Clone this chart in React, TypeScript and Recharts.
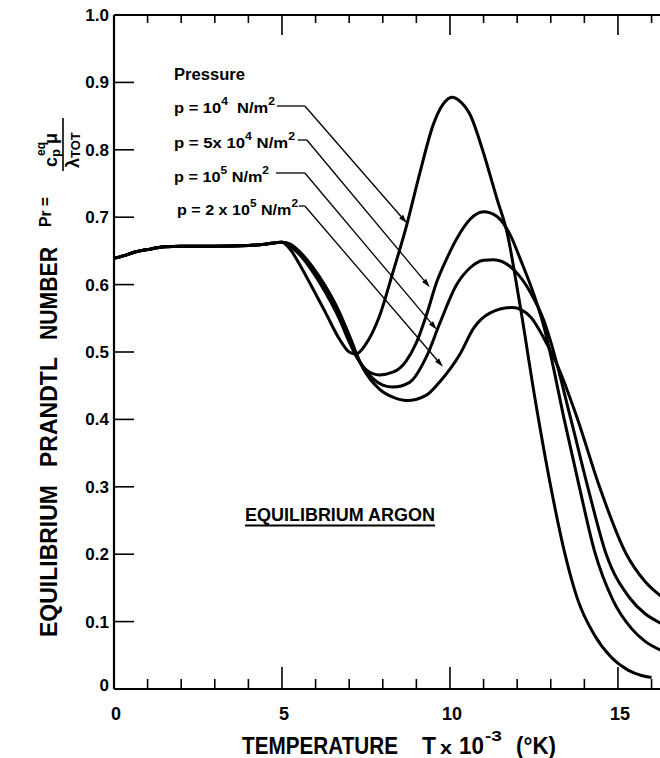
import { LineChart, Line, XAxis, YAxis, ReferenceLine } from "recharts";

// temperature in units of 1000 K, Prandtl number
const sharedT = [0, 0.3, 0.6, 1.0, 1.5, 2, 3, 4, 4.5, 5.0];
const sharedPr = [0.639, 0.643, 0.648, 0.652, 0.656, 0.657, 0.657, 0.658, 0.66, 0.663];

const branch1e4: [number, number][] = [
  [5.25, 0.652], [5.5, 0.632], [5.8, 0.605], [6.3, 0.558], [6.7, 0.52], [7.0, 0.5],
  [7.2, 0.497], [7.5, 0.512], [7.9, 0.553], [8.3, 0.618], [8.7, 0.686], [9.1, 0.765],
  [9.5, 0.837], [9.8, 0.868], [10.06, 0.878], [10.3, 0.872], [10.6, 0.852], [11.0, 0.795],
  [11.4, 0.727], [11.7, 0.677], [12.05, 0.58], [12.55, 0.425], [13.0, 0.3], [13.4, 0.205],
  [13.8, 0.133], [14.3, 0.08], [14.8, 0.047], [15.3, 0.028], [15.7, 0.02], [16.0, 0.017],
];
const branch5e4: [number, number][] = [
  [5.25, 0.657], [5.6, 0.64], [5.9, 0.62], [6.3, 0.588], [6.7, 0.55], [7.0, 0.515],
  [7.25, 0.49], [7.55, 0.472], [7.9, 0.466], [8.3, 0.47], [8.7, 0.487], [9.0, 0.514],
  [9.3, 0.555], [9.6, 0.603], [9.9, 0.638], [10.2, 0.668], [10.6, 0.697], [11.0, 0.708],
  [11.4, 0.701], [11.8, 0.673], [12.1, 0.637], [12.5, 0.585], [12.8, 0.537], [13.0, 0.495],
  [13.4, 0.4], [13.85, 0.3], [14.3, 0.205], [14.85, 0.132], [15.4, 0.09], [15.8, 0.071],
  [16.3, 0.057],
];
const branch1e5: [number, number][] = [
  [5.25, 0.659], [5.6, 0.643], [5.9, 0.624], [6.3, 0.593], [6.7, 0.555], [7.0, 0.52],
  [7.3, 0.487], [7.7, 0.461], [8.0, 0.451], [8.3, 0.448], [8.8, 0.455], [9.3, 0.493],
  [9.7, 0.543], [10.2, 0.6], [10.6, 0.625], [11.0, 0.636], [11.3, 0.637], [11.9, 0.622],
  [12.4, 0.588], [12.8, 0.546], [13.0, 0.515], [13.6, 0.4], [14.1, 0.3], [14.65, 0.2],
  [15.35, 0.135], [15.8, 0.112], [16.3, 0.097],
];
const branch2e5: [number, number][] = [
  [5.25, 0.66], [5.6, 0.645], [5.9, 0.627], [6.3, 0.597], [6.7, 0.56], [7.0, 0.525],
  [7.4, 0.477], [7.9, 0.445], [8.3, 0.433], [8.72, 0.428], [9.3, 0.436], [9.7, 0.456],
  [10.3, 0.497], [10.7, 0.535], [11.2, 0.558], [11.85, 0.566], [12.4, 0.552], [12.8, 0.52],
  [13.2, 0.48], [13.8, 0.4], [14.45, 0.3], [15.25, 0.2], [15.8, 0.16], [16.3, 0.137],
];

const xTicks = [0, 1, 2, 3, 4, 5, 6, 7, 8, 9, 10, 11, 12, 13, 14, 15, 16];
const yTicks = [0, 0.1, 0.2, 0.3, 0.4, 0.5, 0.6, 0.7, 0.8, 0.9, 1.0];
const yTickLabels = ["0", "0.1", "0.2", "0.3", "0.4", "0.5", "0.6", "0.7", "0.8", "0.9", "1.0"];

// pressure labels: text before exponent, exponent
const pressureLabels: [string, string][] = [
  ["p = 10", "4"],
  ["p = 5x 10", "4"],
  ["p = 10", "5"],
  ["p = 2 x 10", "5"],
];

// leader lines from the pressure labels: start, knee, arrow tip (data coords)
const leaders = [
  { from: [4.85, 0.865], knee: [5.68, 0.865], tip: [8.72, 0.691] },
  { from: [5.47, 0.8145], knee: [5.74, 0.8145], tip: [9.4, 0.596] },
  { from: [4.82, 0.7656], knee: [5.68, 0.7656], tip: [9.61, 0.533] },
  { from: [5.5, 0.7166], knee: [5.68, 0.7166], tip: [9.79, 0.478] },
];

const toRows = (pts: [number, number][]) => [
  ...sharedT.map((t, i) => ({ t, pr: sharedPr[i] })),
  ...pts.map(([t, pr]) => ({ t, pr })),
];

const series = [
  { key: "1e4", data: toRows(branch1e4) },
  { key: "5e4", data: toRows(branch5e4) },
  { key: "1e5", data: toRows(branch1e5) },
  { key: "2e5", data: toRows(branch2e5) },
];

const FONT = "'Liberation Sans', Arial, sans-serif";

const BottomTick = (props: any) => {
  const { x, y, payload } = props;
  const v = payload.value;
  const major = v % 5 === 0;
  return (
    <g>
      {v > 0 && <line x1={x} x2={x} y1={y} y2={y - (major ? 22 : 10)} stroke="#000" strokeWidth={1.6} />}
      {major && (
        <text x={x + 2} y={y + 31} textAnchor="middle" fontFamily={FONT} fontWeight="bold" fontSize={18} fill="#000">
          {v}
        </text>
      )}
    </g>
  );
};

const TopTick = (props: any) => {
  const { x, y, payload } = props;
  const v = payload.value;
  if (v === 0) return <g />;
  const major = v % 5 === 0;
  return <line x1={x} x2={x} y1={y} y2={y + (major ? 20 : 8)} stroke="#000" strokeWidth={1.6} />;
};

const LeftTick = (props: any) => {
  const { x, y, index } = props;
  const label = yTickLabels[index];
  const inner = index > 0 && index < yTicks.length - 1;
  return (
    <g>
      {inner && <line x1={x} x2={x + 20} y1={y} y2={y} stroke="#000" strokeWidth={1.6} />}
      <text
        x={x - 5}
        y={index === 0 ? y + 2 : y + 6}
        textAnchor="end"
        fontFamily={FONT}
        fontWeight="bold"
        fontSize={17}
        fill="#000"
      >
        {label}
      </text>
    </g>
  );
};

const RightTick = (props: any) => {
  const { x, y, payload } = props;
  const v = payload.value;
  if (v <= 0.001 || v >= 0.999) return <g />;
  return <line x1={x} x2={x - 15} y1={y} y2={y} stroke="#000" strokeWidth={1.6} />;
};

const plainSegment = (props: any) => (
  <line x1={props.x1} y1={props.y1} x2={props.x2} y2={props.y2} stroke="#000" strokeWidth={1.3} />
);

const arrowSegment = (props: any) => {
  const { x1, y1, x2, y2 } = props;
  const dx = x2 - x1;
  const dy = y2 - y1;
  const len = Math.sqrt(dx * dx + dy * dy) || 1;
  const ux = dx / len;
  const uy = dy / len;
  const bx = x2 - ux * 9;
  const by = y2 - uy * 9;
  const px = -uy * 2.6;
  const py = ux * 2.6;
  return (
    <g>
      <line x1={x1} y1={y1} x2={bx} y2={by} stroke="#000" strokeWidth={1.3} />
      <polygon points={`${x2},${y2} ${bx + px},${by + py} ${bx - px},${by - py}`} fill="#000" />
    </g>
  );
};

// one text element per row, superscripts as tspans
function PressureRow({ x, y, width, label, exp }: { x: number; y: number; width: number; label: string; exp: string }) {
  return (
    <text
      x={x}
      y={y}
      fontFamily={FONT}
      fontWeight="bold"
      fontSize={15}
      fill="#000"
      textLength={width}
      lengthAdjust="spacingAndGlyphs"
      style={{ whiteSpace: "pre" }}
    >
      {label}
      <tspan dy={-8} fontSize={11}>{exp}</tspan>
      <tspan dy={8} fontSize={15}>{exp === "4" && label === "p = 10" ? "  N/m" : " N/m"}</tspan>
      <tspan dy={-8} fontSize={11}>2</tspan>
    </text>
  );
}

const rowLayout = [
  { x: 174, y: 113, width: 101 },
  { x: 174, y: 148, width: 121 },
  { x: 174, y: 182, width: 95 },
  { x: 177, y: 215, width: 121 },
];

function Annotations() {
  const bold = { fontFamily: FONT, fontWeight: "bold" as const, fill: "#000" };
  return (
    <svg width={660} height={758} style={{ position: "absolute", left: 0, top: 0, pointerEvents: "none" }}>
      {/* legend */}
      <text x={174} y={80} fontSize={16} textLength={71} lengthAdjust="spacingAndGlyphs" {...bold}>
        Pressure
      </text>
      {pressureLabels.map(([label, exp], i) => (
        <PressureRow key={i} {...rowLayout[i]} label={label} exp={exp} />
      ))}

      {/* inner label */}
      <text x={245} y={521} fontSize={18} textLength={190} lengthAdjust="spacingAndGlyphs" {...bold}>
        EQUILIBRIUM ARGON
      </text>
      <line x1={245} x2={435} y1={525.5} y2={525.5} stroke="#000" strokeWidth={2} />

      {/* x axis title */}
      <text x={242} y={754} fontSize={23} textLength={156} lengthAdjust="spacingAndGlyphs" {...bold}>
        TEMPERATURE
      </text>
      <text x={422} y={754} fontSize={23} textLength={14} lengthAdjust="spacingAndGlyphs" {...bold}>T</text>
      <text x={440} y={754} fontSize={18} textLength={12} lengthAdjust="spacingAndGlyphs" {...bold}>x</text>
      <text x={459} y={754} fontSize={23} textLength={25} lengthAdjust="spacingAndGlyphs" {...bold}>10</text>
      <text x={485} y={741} fontSize={15} textLength={17} lengthAdjust="spacingAndGlyphs" {...bold}>-3</text>
      <text x={516} y={754} fontSize={23} textLength={40} lengthAdjust="spacingAndGlyphs" {...bold}>(°K)</text>

      {/* y axis title, rotated: local (x, y) = (-screenY, screenX) */}
      <g transform="rotate(-90)">
        <text x={-637} y={57} fontSize={23} textLength={152} lengthAdjust="spacingAndGlyphs" {...bold}>EQUILIBRIUM</text>
        <text x={-467} y={57} fontSize={23} textLength={110} lengthAdjust="spacingAndGlyphs" {...bold}>PRANDTL</text>
        <text x={-340} y={57} fontSize={23} textLength={93} lengthAdjust="spacingAndGlyphs" {...bold}>NUMBER</text>
        <text x={-227} y={51} fontSize={17} textLength={30} lengthAdjust="spacingAndGlyphs" {...bold}>Pr =</text>
        {/* numerator c_p^eq mu */}
        <text x={-167} y={57} fontSize={18} {...bold}>
          c<tspan dy={3} fontSize={13}>p</tspan>
          <tspan dy={-3} fontSize={18}> μ</tspan>
        </text>
        <text x={-156} y={45} fontSize={12} {...bold}>eq</text>
        <line x1={-171} x2={-118} y1={63} y2={63} stroke="#000" strokeWidth={1.6} />
        {/* denominator lambda_TOT */}
        <text x={-168} y={79} fontSize={18} {...bold}>
          λ<tspan dy={1} fontSize={13}>TOT</tspan>
        </text>
      </g>
    </svg>
  );
}

export default function App() {
  return (
    <div style={{ position: "absolute", left: 0, top: 0, width: 660, height: 758, overflow: "hidden", background: "#fff" }}>
      <LineChart width={680} height={758} margin={{ top: 14, right: 14, bottom: 68, left: 113 }}>
        <XAxis
          xAxisId="bottom"
          type="number"
          dataKey="t"
          domain={[0, 16.4]}
          ticks={xTicks}
          interval={0}
          height={1}
          tickSize={0}
          tickMargin={0}
          tickLine={false}
          tick={<BottomTick />}
          axisLine={{ stroke: "#000", strokeWidth: 2.2 }}
          allowDataOverflow
        />
        <XAxis
          xAxisId="top"
          orientation="top"
          type="number"
          dataKey="t"
          domain={[0, 16.4]}
          ticks={xTicks}
          interval={0}
          height={1}
          tickSize={0}
          tickMargin={0}
          tickLine={false}
          tick={<TopTick />}
          axisLine={{ stroke: "#000", strokeWidth: 2 }}
          allowDataOverflow
        />
        <YAxis
          yAxisId="left"
          type="number"
          domain={[0, 1]}
          ticks={yTicks}
          interval={0}
          width={1}
          tickSize={0}
          tickMargin={0}
          tickLine={false}
          tick={<LeftTick />}
          axisLine={{ stroke: "#000", strokeWidth: 2.2 }}
        />
        <YAxis
          yAxisId="right"
          orientation="right"
          type="number"
          domain={[0, 1]}
          ticks={yTicks}
          interval={0}
          width={1}
          tickSize={0}
          tickMargin={0}
          tickLine={false}
          tick={<RightTick />}
          axisLine={{ stroke: "#000", strokeWidth: 2 }}
        />
        {leaders.map((l, i) => (
          <ReferenceLine
            key={`h${i}`}
            xAxisId="bottom"
            yAxisId="left"
            segment={[{ x: l.from[0], y: l.from[1] }, { x: l.knee[0], y: l.knee[1] }]}
            shape={plainSegment}
          />
        ))}
        {leaders.map((l, i) => (
          <ReferenceLine
            key={`d${i}`}
            xAxisId="bottom"
            yAxisId="left"
            segment={[{ x: l.knee[0], y: l.knee[1] }, { x: l.tip[0], y: l.tip[1] }]}
            shape={arrowSegment}
          />
        ))}
        {series.map((s) => (
          <Line
            key={s.key}
            xAxisId="bottom"
            yAxisId="left"
            data={s.data}
            dataKey="pr"
            type="monotone"
            stroke="#000"
            strokeWidth={3}
            dot={false}
            activeDot={false}
            isAnimationActive={false}
          />
        ))}
      </LineChart>
      <Annotations />
    </div>
  );
}
